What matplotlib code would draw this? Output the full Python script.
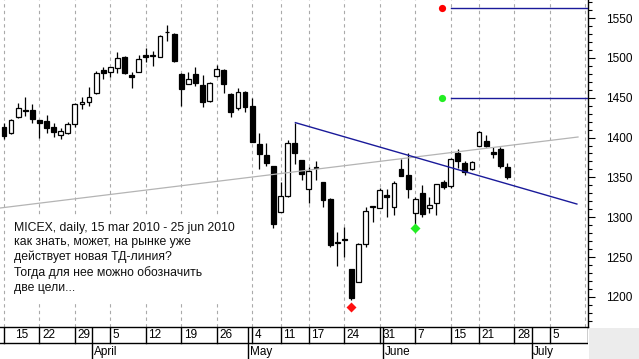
import matplotlib
matplotlib.use("Agg")
import matplotlib.pyplot as plt
from matplotlib.patches import Rectangle
from matplotlib.ticker import MultipleLocator
import matplotlib.transforms as mtransforms
import numpy as np

plt.rcParams['font.family'] = ['Liberation Sans', 'DejaVu Sans']

# ---------------- data (MICEX daily, 15 Mar 2010 - 25 Jun 2010) ----------------
opens = [1413, 1406, 1426, 1434, 1435, 1422, 1421, 1413, 1403, 1406,
         1417, 1442, 1445, 1456, 1485, 1482, 1487, 1501, 1478, 1482,
         1504, 1502, 1501, 1532, 1530, 1480, 1467, 1480, 1466, 1446,
         1477, 1485, 1455, 1437, 1457, 1440, 1392, 1378, 1364, 1307,
         1327, 1393, 1372, 1335, 1363, 1344, 1323, 1269, 1273, 1235,
         1219, 1267, 1313, 1311, 1328, 1313, 1361, 1353, 1305, 1330,
         1311, 1318, 1344, 1339, 1381, 1368, 1361, 1390, 1396, 1382,
         1386, 1363]
highs = [1418, 1423, 1443, 1451, 1442, 1422, 1428, 1418, 1412, 1420,
         1443, 1451, 1463, 1483, 1488, 1489, 1507, 1502, 1482, 1504,
         1512, 1509, 1529, 1541, 1531, 1481, 1482, 1489, 1478, 1470,
         1491, 1486, 1456, 1462, 1458, 1450, 1406, 1393, 1364, 1344,
         1397, 1418, 1372, 1363, 1371, 1344, 1324, 1281, 1288, 1235,
         1268, 1313, 1314, 1337, 1335, 1346, 1373, 1381, 1326, 1340,
         1325, 1342, 1347, 1374, 1386, 1371, 1370, 1408, 1403, 1388,
         1388, 1368]
lows = [1398, 1405, 1425, 1427, 1418, 1399, 1406, 1401, 1398, 1405,
        1413, 1436, 1440, 1455, 1474, 1476, 1481, 1480, 1462, 1482,
        1495, 1490, 1501, 1521, 1495, 1440, 1467, 1465, 1438, 1445,
        1476, 1456, 1426, 1435, 1432, 1394, 1361, 1364, 1286, 1306,
        1326, 1367, 1347, 1318, 1347, 1313, 1263, 1239, 1250, 1196,
        1219, 1263, 1294, 1311, 1300, 1303, 1352, 1324, 1292, 1300,
        1305, 1303, 1335, 1337, 1362, 1353, 1359, 1389, 1388, 1374,
        1362, 1348]
closes = [1402, 1422, 1437, 1433, 1423, 1418, 1412, 1407, 1408, 1417,
          1442, 1445, 1451, 1481, 1481, 1488, 1500, 1481, 1476, 1499,
          1501, 1503, 1527, 1532, 1496, 1461, 1474, 1468, 1445, 1468,
          1486, 1467, 1432, 1457, 1438, 1395, 1379, 1368, 1291, 1327,
          1393, 1381, 1354, 1358, 1362, 1322, 1265, 1268, 1272, 1199,
          1267, 1308, 1313, 1334, 1326, 1343, 1352, 1336, 1323, 1304,
          1316, 1342, 1338, 1373, 1371, 1357, 1369, 1407, 1390, 1379,
          1364, 1350]

# date axis (trading-day index -> label)
week_tick_idx = [0, 5, 10, 15, 20, 25, 30, 35, 39, 43, 48, 53, 58, 63, 67, 72, 77, 82]
week_tick_lbl = ['15', '22', '29', '5', '12', '19', '26', '4', '11', '17', '24', '31',
                 '7', '15', '21', '28', '5', '']
month_idx = [13, 35, 54, 75]
month_lbl = ['April', 'May', 'June', 'July']

# analysis lines
gray_line_x = [-0.56, 80.96]
gray_line_y = [1311.6, 1400.7]
trend_x = [41.1, 80.8]
trend_y = [1418.7, 1316.6]
target_levels = [1562, 1450]
target_start = 63.0
target_colors = ['#ff0000', '#22ee22']
target_dot_x = 61.8
low_marks_x = [49, 58]
low_marks_y = [1187, 1287]
low_marks_c = ['#ff1010', '#22ee22']

note = ("MICEX, daily, 15 mar 2010 - 25 jun 2010\n"
        "как знать, может, на рынке уже\n"
        "действует новая ТД-линия?\n"
        "Тогда для нее можно обозначить\n"
        "две цели...")

# ---------------- figure ----------------
W, H = 639, 359
fig = plt.figure(figsize=(W / 100, H / 100), dpi=100)
fig.patch.set_facecolor('white')

def fx(px):
    return px / W

def fy(py):
    return 1 - py / H

ax_right = 588
ax_bottom = 327
ax = fig.add_axes([0, fy(ax_bottom), fx(ax_right), 1 - fy(ax_bottom)])
xlim = (-0.564, 82.37)
ax.set_xlim(*xlim)
ax.set_ylim(1162.3, 1572.6)

for s in ['left', 'top']:
    ax.spines[s].set_visible(False)
ax.spines['right'].set_linewidth(1.0)
ax.spines['bottom'].set_linewidth(1.0)

ax.set_xticks([])
ax.yaxis.tick_right()
ax.yaxis.set_major_locator(MultipleLocator(50))
ax.yaxis.set_minor_locator(MultipleLocator(10))
ax.tick_params(axis='y', which='major', length=5, width=0.8, pad=8,
               labelsize=8.5, direction='out')
ax.tick_params(axis='y', which='minor', length=3, width=0.8, direction='out')
for lbl in ax.get_yticklabels():
    lbl.set_horizontalalignment('left')

# vertical dashed gridlines
for xi in week_tick_idx:
    ax.axvline(xi, color='#aaaaaa', lw=0.8, ls=(0, (3, 3)), zorder=0)

# white note background
fig.patches.append(Rectangle((fx(8), fy(302)), fx(238) - fx(8), fy(216) - fy(302),
                             transform=fig.transFigure, facecolor='white',
                             edgecolor='none', zorder=0.5))
fig.text(fx(14), fy(222), note, fontsize=8.8, va='top', ha='left',
         linespacing=1.27, color='#111111', zorder=3)

# candles
idx = np.arange(len(opens))
o = np.array(opens, float)
c = np.array(closes, float)
h = np.array(highs, float)
l = np.array(lows, float)
up = c >= o
ax.vlines(idx, l, h, color='black', lw=0.9, zorder=2)
body_lo = np.minimum(o, c)
body_h = np.maximum(np.abs(c - o), 0.9)
ax.bar(idx[up], body_h[up], bottom=body_lo[up], width=0.68, color='white',
       edgecolor='black', linewidth=0.9, zorder=3)
ax.bar(idx[~up], body_h[~up], bottom=body_lo[~up], width=0.68, color='black',
       edgecolor='black', linewidth=0.9, zorder=3)

# lines
ax.plot(gray_line_x, gray_line_y, color='#b4b4b4', lw=0.9, zorder=4)
ax.plot(trend_x, trend_y, color='#1a1a9a', lw=1.0, zorder=4)
for lev, col in zip(target_levels, target_colors):
    ax.plot([target_start, xlim[1]], [lev, lev], color='#1a1a9a', lw=1.0, zorder=4)
    ax.plot([target_dot_x], [lev], 'o', color=col, ms=5.2, mec='none', zorder=5)
for mx, my, col in zip(low_marks_x, low_marks_y, low_marks_c):
    ax.plot([mx], [my], 'D', color=col, ms=4.6, mec='none', zorder=5)

# ---------------- date axis ----------------
axd = fig.add_axes([0, 0, fx(ax_right), fy(ax_bottom)])
axd.set_xlim(*xlim)
axd.set_ylim(0, 2)
axd.axis('off')
axd.axhline(1, color='black', lw=1.0)
axd.plot([xlim[1], xlim[1]], [1, 2], color='black', lw=1.0)
for i, (xi, t) in enumerate(zip(week_tick_idx, week_tick_lbl)):
    if xi < xlim[1] - 0.5:
        axd.plot([xi, xi], [1, 2], color='black', lw=1.0)
    if t:
        off = 11 if i == 0 else 2.5
        tr = mtransforms.offset_copy(axd.transData, fig=fig, x=off * 0.72, y=0,
                                     units='points')
        axd.text(xi, 1.5, t, fontsize=8.5, ha='left', va='center', transform=tr)
for xi, t in zip(month_idx, month_lbl):
    axd.plot([xi - 0.55, xi - 0.55], [0, 2], color='black', lw=1.0)
    tr = mtransforms.offset_copy(axd.transData, fig=fig, x=1.5 * 0.72, y=0,
                                 units='points')
    axd.text(xi - 0.55, 0.45, t, fontsize=8.5, ha='left', va='center', transform=tr)

# grey corner
fig.patches.append(Rectangle((fx(589), 0), 1 - fx(589), fy(328), transform=fig.transFigure,
                             facecolor='#ececec', edgecolor='none', zorder=0))

fig.savefig('out.png', dpi=100)
